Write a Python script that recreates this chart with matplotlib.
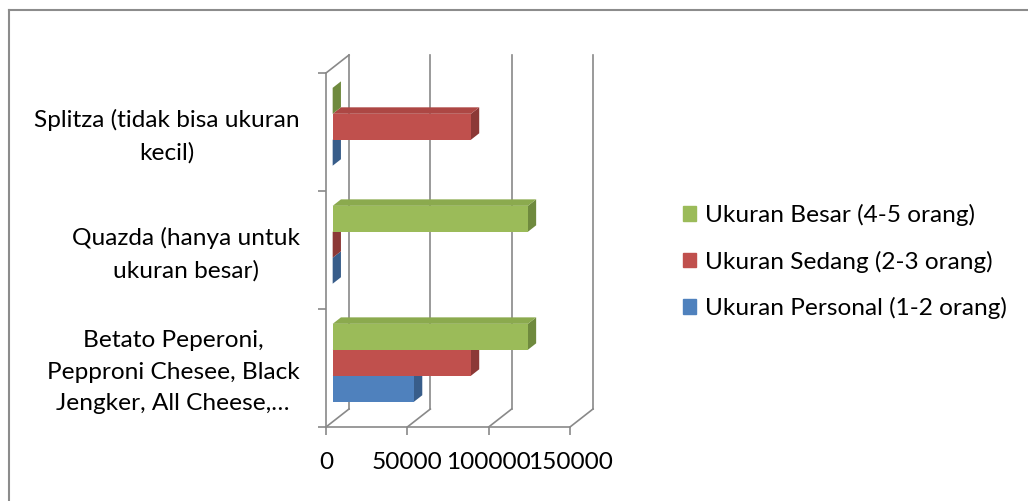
import matplotlib
matplotlib.use("Agg")
import matplotlib.pyplot as plt
import matplotlib.transforms as mtransforms
from matplotlib.patches import Polygon, Patch
from matplotlib.lines import Line2D

plt.rcParams['font.family'] = ['Lato', 'DejaVu Sans']

categories = ['Betato Peperoni,\nPepproni Chesee, Black\nJengker, All Cheese,…',
              'Quazda (hanya untuk\nukuran besar)',
              'Splitza (tidak bisa ukuran\nkecil)']
series = ['Ukuran Personal (1-2 orang)', 'Ukuran Sedang (2-3 orang)', 'Ukuran Besar (4-5 orang)']
personal = [50000, 0, 0]
sedang = [85000, 0, 85000]
besar = [120000, 120000, 0]
xticks = [0, 50000, 100000, 150000]

front_colors = ['#4F81BD', '#C0504D', '#9BBB59']
top_colors = ['#4674AA', '#AD4744', '#8BAA4E']
side_colors = ['#385D8A', '#8C3836', '#6F8A3E']
grid_color = '#898989'

W, H = 1028, 501
fig = plt.figure(figsize=(W / 100, H / 100), dpi=100)
left, right, bottom, top = 326, 570, 427, 73
ax = fig.add_axes([left / W, 1 - bottom / H, (right - left) / W, (bottom - top) / H])
xmax = 150000
ymin, ymax = -0.5, 2.5
ax.set_xlim(0, xmax)
ax.set_ylim(ymin, ymax)

# oblique depth offset (full depth) in data units
DX = xmax * 23 / (right - left)
DY = (ymax - ymin) * 18 / (bottom - top)

fs = 17.6

# back wall, floor lines, left wall
for x in xticks:
    ax.add_line(Line2D([x + DX, x + DX], [ymin + DY, ymax + DY], color=grid_color, lw=1.2, clip_on=False))
    ax.add_line(Line2D([x, x + DX], [ymin, ymin + DY], color=grid_color, lw=1.2, clip_on=False))
ax.add_line(Line2D([0, DX], [ymax, ymax + DY], color=grid_color, lw=1.2, clip_on=False))

# bars
d0, d1 = 0.29, 0.65
h = 0.22
data = [personal, sedang, besar]
offsets = [-h, 0, h]
for i, vals in enumerate(data):
    ys = [c + offsets[i] + d0 * DY for c in range(len(categories))]
    lefts = [d0 * DX] * len(vals)
    dd = d1 - d0
    for y, v, l in zip(ys, vals, lefts):
        y0, y1 = y - h / 2, y + h / 2
        xe = l + v
        side = Polygon([(xe, y0), (xe + dd * DX, y0 + dd * DY), (xe + dd * DX, y1 + dd * DY), (xe, y1)],
                       closed=True, facecolor=side_colors[i], edgecolor='none', clip_on=False, zorder=3 + i)
        topf = Polygon([(l, y1), (xe, y1), (xe + dd * DX, y1 + dd * DY), (l + dd * DX, y1 + dd * DY)],
                       closed=True, facecolor=top_colors[i], edgecolor='none', clip_on=False, zorder=3 + i)
        ax.add_patch(side)
        ax.add_patch(topf)
    ax.barh(ys, vals, height=h, left=lefts, color=front_colors[i], zorder=3 + i, clip_on=False)

# axes styling
for s in ['top', 'right']:
    ax.spines[s].set_visible(False)
for s in ['left', 'bottom']:
    ax.spines[s].set_color(grid_color)
    ax.spines[s].set_linewidth(1.2)
ax.set_xticks(xticks)
ax.set_xticklabels([str(x) for x in xticks], fontsize=fs)
ax.tick_params(axis='x', length=6, color=grid_color, width=1.2, pad=12)
ax.set_yticks([-0.5, 0.5, 1.5, 2.5], minor=True)
ax.set_yticks(range(len(categories)))
ax.set_yticklabels(categories, fontsize=fs)
ax.tick_params(axis='y', which='major', length=0, pad=19)
ax.tick_params(axis='y', which='minor', length=6, color=grid_color, width=1.2)
shift = mtransforms.ScaledTranslation(0, 3 / 100, fig.dpi_scale_trans)
for lab in ax.get_yticklabels():
    lab.set_multialignment('center')
    lab.set_linespacing(1.6)
    lab.set_transform(lab.get_transform() + shift)

# legend
handles = [Patch(color=front_colors[i]) for i in [2, 1, 0]]
labels = [series[i] for i in [2, 1, 0]]
fig.legend(handles, labels, loc='upper left', bbox_to_anchor=(683 / W, 1 - 204 / H),
           frameon=False, fontsize=fs, handlelength=0.52, handleheight=0.52,
           handletextpad=0.4, labelspacing=1.0, borderpad=0, borderaxespad=0)

# chart border (left and top)
fig.add_artist(Line2D([8.5 / W, 8.5 / W], [0, 1 - 9.5 / H], color='#8C8C8C', lw=1.5))
fig.add_artist(Line2D([8.5 / W, 1], [1 - 9.5 / H, 1 - 9.5 / H], color='#8C8C8C', lw=1.5))

fig.savefig('out.png', dpi=100)
